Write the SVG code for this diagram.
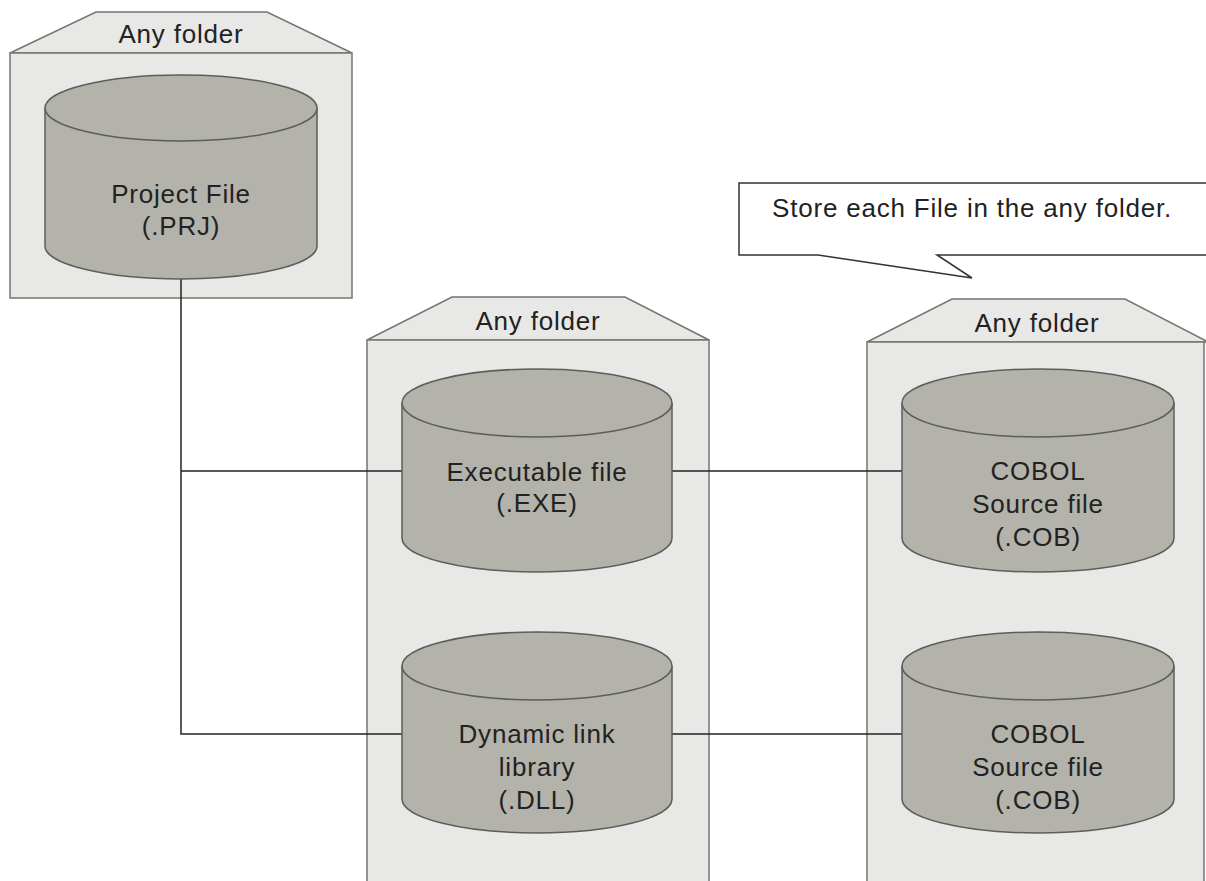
<svg xmlns="http://www.w3.org/2000/svg" width="1206" height="881" viewBox="0 0 1206 881">
<style>
.folder{fill:#e8e8e6;stroke:#76766f;stroke-width:1.5}
.cyl{fill:#b3b3ab;stroke:#5e5e58;stroke-width:1.5}
.t{font-family:"Liberation Sans",Arial,sans-serif;font-size:26px;letter-spacing:0.8px;fill:#222;text-anchor:middle}
.conn{fill:none;stroke:#222;stroke-width:1.5}
.callout{fill:#fff;stroke:#333;stroke-width:1.5}
</style>
<rect width="1206" height="881" fill="#fff"/>
<g id="folder1">
<polygon class="folder" points="10,53 96,12 267,12 352,53"/>
<rect class="folder" x="10" y="53" width="342" height="245"/>
<text class="t" x="181" y="43">Any folder</text>
</g>
<g id="folder2">
<polygon class="folder" points="367,340 452,297 625,297 709,340"/>
<rect class="folder" x="367" y="340" width="342" height="560"/>
<text class="t" x="538" y="330">Any folder</text>
</g>
<g id="folder3">
<polygon class="folder" points="867,342 952,299 1125,299 1208,342"/>
<rect class="folder" x="867" y="342" width="337" height="560"/>
<text class="t" x="1037" y="332">Any folder</text>
</g>
<g id="callout">
<path class="callout" d="M1210,183 L739,183 L739,255 L818,255 L972,278 L937,255 L1210,255"/>
<text class="t" x="772" y="217" style="text-anchor:start">Store each File in the any folder.</text>
</g>
<g id="connectors">
<path class="conn" d="M181,278 V734 H402"/>
<path class="conn" d="M181,471 H402"/>
<path class="conn" d="M672,471 H902"/>
<path class="conn" d="M672,734 H902"/>
</g>
<g id="prj">
<path class="cyl" d="M45,108 V246 A136,33 0 0 0 317,246 V108"/>
<ellipse class="cyl" cx="181" cy="108" rx="136" ry="33"/>
<text class="t" x="181" y="203">Project File</text>
<text class="t" x="181" y="235">(.PRJ)</text>
</g>
<g id="exe">
<path class="cyl" d="M402,403 V538 A135,34 0 0 0 672,538 V403"/>
<ellipse class="cyl" cx="537" cy="403" rx="135" ry="34"/>
<text class="t" x="537" y="481">Executable file</text>
<text class="t" x="537" y="512">(.EXE)</text>
</g>
<g id="cob1">
<path class="cyl" d="M902,403 V538 A136,34 0 0 0 1174,538 V403"/>
<ellipse class="cyl" cx="1038" cy="403" rx="136" ry="34"/>
<text class="t" x="1038" y="480">COBOL</text>
<text class="t" x="1038" y="513">Source file</text>
<text class="t" x="1038" y="546">(.COB)</text>
</g>
<g id="dll">
<path class="cyl" d="M402,666 V799 A135,34 0 0 0 672,799 V666"/>
<ellipse class="cyl" cx="537" cy="666" rx="135" ry="34"/>
<text class="t" x="537" y="743">Dynamic link</text>
<text class="t" x="537" y="776">library</text>
<text class="t" x="537" y="809">(.DLL)</text>
</g>
<g id="cob2">
<path class="cyl" d="M902,666 V799 A136,34 0 0 0 1174,799 V666"/>
<ellipse class="cyl" cx="1038" cy="666" rx="136" ry="34"/>
<text class="t" x="1038" y="743">COBOL</text>
<text class="t" x="1038" y="776">Source file</text>
<text class="t" x="1038" y="809">(.COB)</text>
</g>
</svg>
